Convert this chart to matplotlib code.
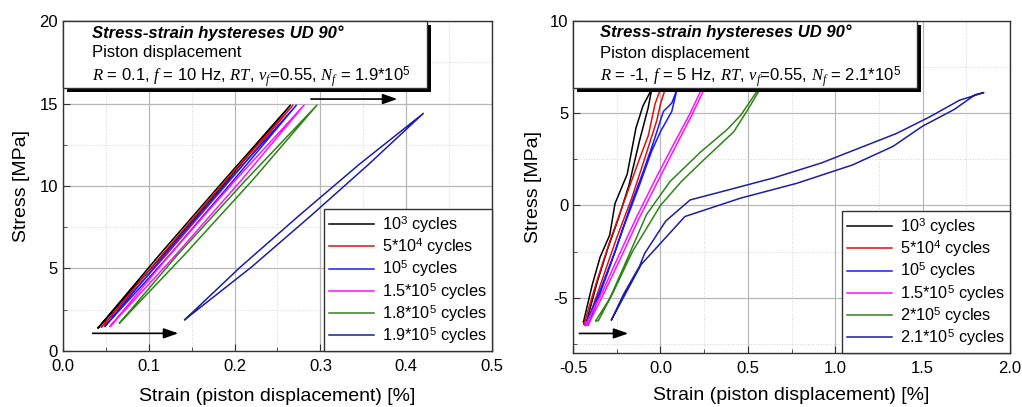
import matplotlib
matplotlib.use("Agg")
import matplotlib.pyplot as plt
from matplotlib.patches import Rectangle
from matplotlib.ticker import MultipleLocator, FormatStrFormatter
from matplotlib.transforms import ScaledTranslation

plt.rcParams["font.family"] = ["Liberation Sans", "DejaVu Sans"]
plt.rcParams["mathtext.fontset"] = "custom"
plt.rcParams["mathtext.rm"] = "Liberation Sans"
plt.rcParams["mathtext.it"] = "Liberation Serif:italic"
plt.rcParams["axes.unicode_minus"] = False

# ---- left panel: R = 0.1 (closed loops, strain % / stress MPa)
left_labels = ["10$^3$ cycles", "5*10$^4$ cycles", "10$^5$ cycles",
               "1.5*10$^5$ cycles", "1.8*10$^5$ cycles", "1.9*10$^5$ cycles"]
left_x = [
    [0.041, 0.112, 0.187, 0.265, 0.191, 0.116, 0.041],
    [0.045, 0.115, 0.189, 0.268, 0.194, 0.120, 0.045],
    [0.049, 0.118, 0.193, 0.272, 0.198, 0.124, 0.049],
    [0.055, 0.124, 0.200, 0.281, 0.207, 0.131, 0.055],
    [0.066, 0.133, 0.212, 0.296, 0.220, 0.141, 0.066],
    [0.142, 0.207, 0.275, 0.345, 0.420, 0.356, 0.289, 0.220, 0.142],
]
left_y = [
    [1.4, 5.8, 10.3, 14.9, 10.3, 5.8, 1.4],
    [1.45, 5.8, 10.3, 14.9, 10.3, 5.8, 1.45],
    [1.5, 5.8, 10.3, 14.9, 10.3, 5.8, 1.5],
    [1.5, 5.8, 10.3, 14.9, 10.3, 5.8, 1.5],
    [1.7, 5.8, 10.3, 14.9, 10.3, 5.8, 1.7],
    [1.9, 5.1, 8.2, 11.3, 14.4, 11.3, 8.2, 5.1, 1.9],
]

# ---- right panel: R = -1
right_labels = ["10$^3$ cycles", "5*10$^4$ cycles", "10$^5$ cycles",
                "1.5*10$^5$ cycles", "2*10$^5$ cycles", "2.1*10$^5$ cycles"]
right_x = [
    [-0.44, -0.39, -0.345, -0.29, -0.26, -0.19, -0.14, -0.10, -0.05,
     -0.07, -0.12, -0.18, -0.24, -0.30, -0.36, -0.42, -0.44],
    [-0.438, -0.364, -0.288, -0.193, -0.117, -0.069, -0.031, 0.0,
     0.027, 0.0, -0.021, -0.088, -0.164, -0.25, -0.336, -0.422, -0.438],
    [-0.43, -0.345, -0.26, -0.174, -0.098, -0.041, 0.017, 0.065, 0.095,
     0.065, 0.0, -0.05, -0.126, -0.212, -0.298, -0.413, -0.43],
    [-0.43, -0.33, -0.245, -0.14, -0.025, 0.08, 0.165, 0.235,
     0.25, 0.18, 0.095, -0.01, -0.125, -0.23, -0.32, -0.415, -0.43],
    [-0.37, -0.29, -0.19, -0.08, 0.055, 0.23, 0.38, 0.46, 0.56,
     0.57, 0.50, 0.42, 0.24, 0.12, 0.0, -0.16, -0.27, -0.355, -0.37],
    [-0.28, -0.21, -0.12, -0.09, 0.03, 0.17, 0.36, 0.65, 0.92, 1.35, 1.54, 1.71, 1.85,
     1.80, 1.68, 1.50, 1.33, 1.10, 0.78, 0.46, 0.14, -0.11, -0.28],
]
right_y = [
    [-6.3, -4.3, -2.8, -1.6, 0.1, 1.7, 4.2, 5.4, 6.3,
     5.3, 3.5, 1.1, -0.7, -2.3, -4.1, -6.2, -6.3],
    [-6.45, -4.1, -1.9, 0.6, 2.6, 3.8, 5.5, 6.3,
     6.3, 5.5, 4.6, 2.6, 0.4, -1.75, -4.1, -6.45, -6.45],
    [-6.5, -4.6, -2.5, -0.1, 1.85, 3.4, 5.1, 5.55, 6.3,
     5.1, 4.0, 2.95, 0.95, -1.2, -3.55, -6.5, -6.5],
    [-6.5, -4.65, -2.85, -0.7, 1.5, 3.4, 4.9, 6.3,
     6.3, 4.9, 3.35, 1.4, -0.75, -2.9, -4.7, -6.5, -6.5],
    [-6.25, -5.05, -2.9, -0.5, 1.3, 2.9, 4.1, 4.9, 6.3,
     6.3, 5.2, 4.0, 2.4, 1.3, 0.0, -2.5, -4.7, -6.25, -6.25],
    [-6.2, -4.8, -3.3, -2.6, -0.85, 0.3, 0.77, 1.5, 2.3, 3.9, 4.8, 5.7, 6.12,
     6.0, 5.2, 4.3, 3.2, 2.2, 1.2, 0.4, -0.6, -3.2, -6.2],
]

colors = ["#000000", "#e01010", "#1a1aff", "#ff10ff", "#2f8418", "#1e1ea0"]

title = "Stress-strain hystereses UD 90°"
subtitle = "Piston displacement"
left_cond = r"$R$ = 0.1, $f$ = 10 Hz, $RT$, $v_f$=0.55, $N_f$ = 1.9*10$^5$"
right_cond = r"$R$ = -1, $f$ = 5 Hz, $RT$, $v_f$=0.55, $N_f$ = 2.1*10$^5$"

fig = plt.figure(figsize=(10.22, 4.07), dpi=100)
axL = fig.add_axes([0.0616, 0.1376, 0.4198, 0.8108])
axR = fig.add_axes([0.5607, 0.1327, 0.4276, 0.8157])


def style_axes(ax, xlim, ylim, xmaj, xmin, ymaj, ymin, xfmt, ylab_x, xlab_y):
    ax.set_xlim(*xlim)
    ax.set_ylim(*ylim)
    ax.xaxis.set_major_locator(MultipleLocator(xmaj))
    ax.xaxis.set_minor_locator(MultipleLocator(xmin))
    ax.yaxis.set_major_locator(MultipleLocator(ymaj))
    ax.yaxis.set_minor_locator(MultipleLocator(ymin))
    ax.xaxis.set_major_formatter(FormatStrFormatter(xfmt))
    ax.set_axisbelow(True)
    ax.grid(True, which="major", color="#b8b8b8", lw=0.9)
    ax.grid(True, which="minor", color="#d6d6d6", lw=0.7, ls=":")
    ax.tick_params(which="both", direction="in", top=False, right=False,
                   labelsize=12, color="#333333")
    ax.tick_params(which="major", length=5)
    ax.tick_params(which="minor", length=3)
    ax.tick_params(axis="x", pad=5.5)
    for s in ax.spines.values():
        s.set_color("#333333")
        s.set_linewidth(1.0)
    ax.set_xlabel("Strain (piston displacement) [%]", fontsize=14)
    ax.set_ylabel("Stress [MPa]", fontsize=14)
    ax.xaxis.set_label_coords(0.5, xlab_y)
    ax.xaxis.label.set_va("center")
    ax.yaxis.set_label_coords(ylab_x, 0.5)
    ax.yaxis.label.set_va("center")


def info_box(ax, width, height, cond, tx, ys):
    shadow_tr = ax.transAxes + ScaledTranslation(4 / 100, -4 / 100, fig.dpi_scale_trans)
    ax.add_patch(Rectangle((0, 1 - height), width, height, transform=shadow_tr,
                           facecolor="black", edgecolor="black", lw=0,
                           zorder=5, clip_on=False))
    ax.add_patch(Rectangle((0, 1 - height), width, height, transform=ax.transAxes,
                           facecolor="white", edgecolor="#333333", lw=1.0,
                           zorder=6, clip_on=False))
    ax.text(tx, ys[0], title, transform=ax.transAxes, fontsize=12,
            fontweight="bold", style="italic", va="baseline", zorder=7)
    ax.text(tx, ys[1], subtitle, transform=ax.transAxes, fontsize=12,
            va="baseline", zorder=7)
    ax.text(tx, ys[2], cond, transform=ax.transAxes, fontsize=12,
            va="baseline", zorder=7)


def arrow(ax, x0, x1, y):
    ax.annotate("", xy=(x1, y), xytext=(x0, y),
                arrowprops=dict(arrowstyle="-|>,head_length=0.8,head_width=0.28",
                                color="black", lw=1.2, shrinkA=0, shrinkB=0,
                                mutation_scale=11), zorder=4)


def legend(ax):
    leg = ax.legend(loc="lower right", bbox_to_anchor=(1, 0), borderaxespad=0,
                    fontsize=11.7, frameon=True, fancybox=False, framealpha=1,
                    handlelength=2.8, handletextpad=0.5, labelspacing=0.08,
                    borderpad=0.3)
    leg.get_frame().set_edgecolor("#333333")
    leg.get_frame().set_linewidth(1.0)
    leg.set_zorder(8)


# left
style_axes(axL, (0, 0.5), (0, 20), 0.1, 0.05, 5, 2.5, "%.1f", -0.0956, -0.139)
for xs, ys, c, lab in zip(left_x, left_y, colors, left_labels):
    axL.plot(xs, ys, color=c, lw=1.1, label=lab, zorder=3)
info_box(axL, 0.848, 0.203, left_cond, 0.067, (0.950, 0.890, 0.819))
arrow(axL, 0.0346, 0.1344, 1.07)
arrow(axL, 0.289, 0.3897, 15.27)
legend(axL)

# right
style_axes(axR, (-0.5, 2.0), (-8, 10), 0.5, 0.25, 5, 2.5, "%.1f", -0.09, -0.1295)
for xs, ys, c, lab in zip(right_x, right_y, colors, right_labels):
    axR.plot(xs, ys, color=c, lw=1.1, label=lab, zorder=3)
info_box(axR, 0.787, 0.202, right_cond, 0.0618, (0.9506, 0.890, 0.820))
arrow(axR, -0.464, -0.184, -6.94)
legend(axR)

fig.savefig("out.png", dpi=100)
